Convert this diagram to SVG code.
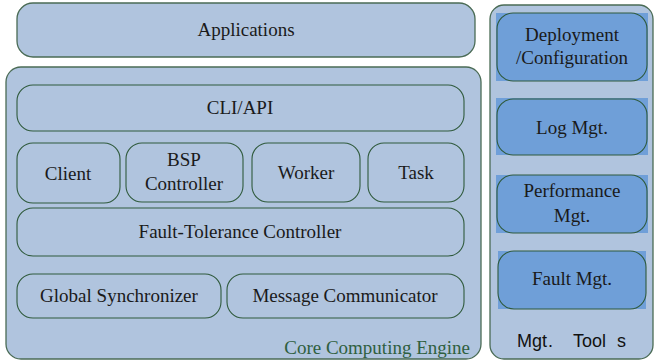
<svg xmlns="http://www.w3.org/2000/svg" width="657" height="364" viewBox="0 0 657 364">
  <style>
    .panel { fill: #b0c4de; stroke: #4a6b55; stroke-width: 1.3; }
    .box { fill: #b0c4de; stroke: #2f5a3c; stroke-width: 1.1; }
    .tool-bg { fill: #6f9fd8; }
    .tool { fill: none; stroke: #2f5a3c; stroke-width: 1.1; }
  </style>

  <rect width="657" height="364" fill="#ffffff"/>

  <g id="applications">
    <rect class="panel" x="17" y="3" width="458" height="54" rx="16"/>
    <text x="246" y="36" text-anchor="middle" fill="#1a1a1a" font-family="Times New Roman" font-size="19">Applications</text>
  </g>

  <g id="core-computing-engine">
    <rect class="panel" x="6" y="67" width="475" height="292" rx="15"/>
    <text x="470" y="354" text-anchor="end" fill="#2f5f3f" font-family="Times New Roman" font-size="19">Core Computing Engine</text>
  </g>

  <g id="cli-api">
    <rect class="box" x="17" y="85" width="447" height="46" rx="16"/>
    <text x="240" y="114" text-anchor="middle" fill="#1a1a1a" font-family="Times New Roman" font-size="19">CLI/API</text>
  </g>

  <g id="client">
    <rect class="box" x="17" y="143" width="103" height="60" rx="16"/>
    <text x="68" y="180" text-anchor="middle" fill="#1a1a1a" font-family="Times New Roman" font-size="19">Client</text>
  </g>

  <g id="bsp-controller">
    <rect class="box" x="126" y="143" width="117" height="59" rx="16"/>
    <text x="184" y="166" text-anchor="middle" fill="#1a1a1a" font-family="Times New Roman" font-size="19">BSP</text>
    <text x="184" y="190" text-anchor="middle" fill="#1a1a1a" font-family="Times New Roman" font-size="19">Controller</text>
  </g>

  <g id="worker">
    <rect class="box" x="252" y="143" width="108" height="59" rx="16"/>
    <text x="306" y="179" text-anchor="middle" fill="#1a1a1a" font-family="Times New Roman" font-size="19">Worker</text>
  </g>

  <g id="task">
    <rect class="box" x="368" y="143" width="96" height="59" rx="16"/>
    <text x="416" y="179" text-anchor="middle" fill="#1a1a1a" font-family="Times New Roman" font-size="19">Task</text>
  </g>

  <g id="fault-tolerance-controller">
    <rect class="box" x="17" y="208" width="447" height="48" rx="16"/>
    <text x="240" y="238" text-anchor="middle" fill="#1a1a1a" font-family="Times New Roman" font-size="19">Fault-Tolerance Controller</text>
  </g>

  <g id="global-synchronizer">
    <rect class="box" x="17" y="274" width="204" height="44" rx="16"/>
    <text x="119" y="302" text-anchor="middle" fill="#1a1a1a" font-family="Times New Roman" font-size="19">Global Synchronizer</text>
  </g>

  <g id="message-communicator">
    <rect class="box" x="227" y="274" width="237" height="44" rx="16"/>
    <text x="345" y="302" text-anchor="middle" fill="#1a1a1a" font-family="Times New Roman" font-size="19">Message Communicator</text>
  </g>

  <g id="mgt-tools">
    <rect class="panel" x="490" y="5" width="163" height="354" rx="14"/>
    <text x="517" y="347" font-family="Liberation Sans" font-size="18" fill="#111">Mgt</text>
    <text x="548" y="347" font-family="Liberation Sans" font-size="18" fill="#111">.</text>
    <text x="573" y="347" font-family="Liberation Sans" font-size="18" fill="#111">Tool</text>
    <text x="617" y="347" font-family="Liberation Sans" font-size="18" fill="#111">s</text>
  </g>

  <g id="deployment-configuration">
    <rect class="tool-bg" x="496" y="13" width="152" height="68"/>
    <rect class="tool" x="497" y="13" width="150" height="68" rx="16"/>
    <text x="572" y="41" text-anchor="middle" fill="#1a1a1a" font-family="Times New Roman" font-size="19">Deployment</text>
    <text x="572" y="64" text-anchor="middle" fill="#1a1a1a" font-family="Times New Roman" font-size="19">/Configuration</text>
  </g>

  <g id="log-mgt">
    <rect class="tool-bg" x="496" y="98" width="152" height="57"/>
    <rect class="tool" x="497" y="99" width="150" height="56" rx="16"/>
    <text x="572" y="134" text-anchor="middle" fill="#1a1a1a" font-family="Times New Roman" font-size="19">Log Mgt.</text>
  </g>

  <g id="performance-mgt">
    <rect class="tool-bg" x="496" y="175" width="152" height="58"/>
    <rect class="tool" x="497" y="175" width="150" height="58" rx="16"/>
    <text x="572" y="197" text-anchor="middle" fill="#1a1a1a" font-family="Times New Roman" font-size="19">Performance</text>
    <text x="572" y="222" text-anchor="middle" fill="#1a1a1a" font-family="Times New Roman" font-size="19">Mgt.</text>
  </g>

  <g id="fault-mgt">
    <rect class="tool-bg" x="498" y="251" width="148" height="58"/>
    <rect class="tool" x="498" y="251" width="148" height="58" rx="16"/>
    <text x="572" y="285" text-anchor="middle" fill="#1a1a1a" font-family="Times New Roman" font-size="19">Fault Mgt.</text>
  </g>

  <g id="connectors"></g>
</svg>
